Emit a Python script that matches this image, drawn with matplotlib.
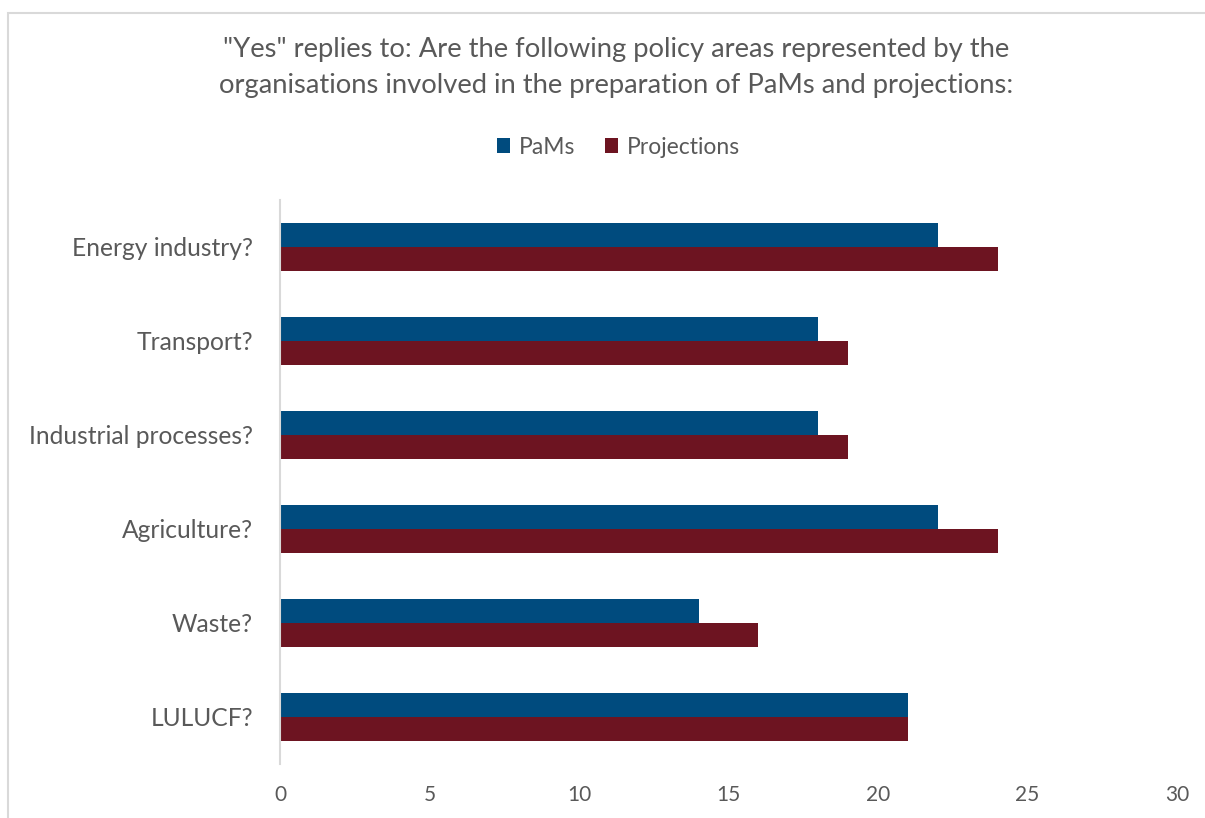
import matplotlib.pyplot as plt
import matplotlib.patches as patches
import numpy as np

categories = ['Energy industry?', 'Transport?', 'Industrial processes?',
              'Agriculture?', 'Waste?', 'LULUCF?']
pams = [22, 18, 18, 22, 14, 21]
projections = [24, 19, 19, 24, 16, 21]
series_names = ['PaMs', 'Projections']
x_ticks = [0, 5, 10, 15, 20, 25, 30]

blue = '#004b7e'
red = '#6d1421'
grey = '#595959'

plt.rcParams['font.family'] = ['Lato', 'DejaVu Sans']

fig = plt.figure(figsize=(12.05, 8.18), dpi=100)
ax = fig.add_axes([280 / 1205, 1 - 764 / 818, 897 / 1205, 564 / 818])

# chart frame like the spreadsheet export
fig.patches.append(patches.Rectangle((8 / 1205, -0.01), 1.0, 1 - 13 / 818 + 0.01,
                                     transform=fig.transFigure, fill=False,
                                     edgecolor='#d9d9d9', linewidth=1.5))

y = np.arange(len(categories))
h = 0.255
ax.barh(y - h / 2, pams, height=h, color=blue, label=series_names[0])
ax.barh(y + h / 2, projections, height=h, color=red, label=series_names[1])

ax.set_ylim(len(categories) - 0.5, -0.5)
ax.set_xlim(0, 30)
ax.set_xticks(x_ticks)
ax.set_yticks(y)
ax.set_yticklabels(categories)
ax.tick_params(axis='both', length=0, colors=grey)
ax.tick_params(axis='x', pad=15, labelsize=15)
ax.tick_params(axis='y', pad=19.5, labelsize=17.7)

for s in ['top', 'right', 'bottom']:
    ax.spines[s].set_visible(False)
ax.spines['left'].set_color('#d9d9d9')
ax.spines['left'].set_linewidth(1.5)

fig.text(0.511, 1 - 50 / 818, '"Yes" replies to: Are the following policy areas represented by the',
         ha='center', va='center', fontsize=19.7, color=grey)
fig.text(0.511, 1 - 86 / 818, 'organisations involved in the preparation of PaMs and projections:',
         ha='center', va='center', fontsize=19.7, color=grey)

fig.legend(loc='center', bbox_to_anchor=(0.513, 1 - 147 / 818), ncol=2, frameon=False,
           fontsize=16.5, labelcolor=grey, handlelength=0.6, handleheight=0.6,
           handletextpad=0.35, columnspacing=1.3)

fig.savefig('out.png', dpi=100)
